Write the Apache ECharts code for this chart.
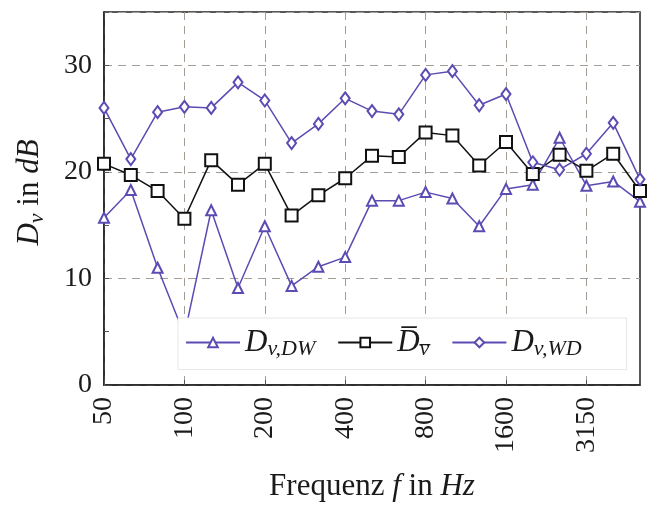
<!DOCTYPE html>
<html>
<head>
<meta charset="utf-8">
<script src="https://cdn.jsdelivr.net/npm/echarts@6/dist/echarts.min.js"></script>
<style>
  html, body { margin: 0; padding: 0; background: #fff; }
  #chart { width: 652px; height: 507px; }
</style>
</head>
<body>
<div id="chart"></div>
<script>
// Terzbänder
const freqs = ['50', '63', '80', '100', '125', '160', '200', '250', '315', '400', '500',
  '630', '800', '1000', '1250', '1600', '2000', '2500', '3150', '4000', '5000'];

const dvDW = [15.7, 18.3, 11.0, 4.7, 16.4, 9.1, 14.9, 9.3, 11.1, 12.0, 17.3,
  17.3, 18.1, 17.5, 14.9, 18.4, 18.8, 23.2, 18.7, 19.1, 17.2];
const dvMean = [20.75, 19.7, 18.2, 15.6, 21.1, 18.8, 20.75, 15.9, 17.8, 19.4, 21.5,
  21.4, 23.7, 23.4, 20.6, 22.8, 19.8, 21.6, 20.1, 21.7, 18.2];
const dvWD = [26.0, 21.2, 25.6, 26.1, 26.0, 28.4, 26.7, 22.7, 24.5, 26.9, 25.7,
  25.4, 29.1, 29.45, 26.25, 27.3, 20.9, 20.2, 21.7, 24.6, 19.3];

const yTicks = [0, 10, 20, 30];

const serif = 'Liberation Serif';
const purple = '#5a4cb2';
const ink = '#1a1a1a';

const rich = {
  it: { fontFamily: serif, fontStyle: 'italic', fontSize: 31, color: ink },
  rm: { fontFamily: serif, fontSize: 31, color: ink },
  sub: { fontFamily: serif, fontStyle: 'italic', fontSize: 22, color: ink, padding: [14, 0, 0, 0] }
};

const legendNames = {
  DW: '{it|D}{sub|v,DW}',
  mean: '{it|D\u0305}{sub|v\u0305}',
  WD: '{it|D}{sub|v,WD}'
};

const every3 = (i) => i % 3 === 0;

const chart = echarts.init(document.getElementById('chart'));

const option = {
  backgroundColor: '#fff',
  animation: false,
  grid: {
    left: 104, right: 12, top: 12, bottom: 121,
    show: true, borderColor: '#222', borderWidth: 1.5, backgroundColor: 'transparent'
  },
  legend: {
    left: 178, top: 318,
    backgroundColor: '#fff', borderColor: '#e6e6e6', borderWidth: 1,
    padding: [9, 45, 9, 7],
    itemWidth: 54, itemHeight: 12, itemGap: 22,
    data: ['DW', 'mean', 'WD'],
    formatter: (n) => legendNames[n],
    textStyle: { rich: rich, color: ink }
  },
  xAxis: {
    type: 'category',
    data: freqs,
    boundaryGap: false,
    name: '{rm|Frequenz }{it|f}{rm| in }{it|Hz}',
    nameLocation: 'middle',
    nameGap: 86,
    nameTextStyle: { rich: rich },
    axisLine: { lineStyle: { color: '#222', width: 1.5 } },
    axisTick: { inside: true, interval: (i) => every3(i), length: 5, lineStyle: { color: '#555' } },
    axisLabel: {
      interval: (i) => every3(i), rotate: 90, margin: 12,
      fontFamily: serif, fontSize: 28, color: ink
    },
    splitLine: {
      show: true, interval: (i) => every3(i),
      lineStyle: { type: [8, 6], color: '#a39c94', width: 1 }
    }
  },
  yAxis: {
    type: 'value',
    min: 0, max: 35, interval: 10,
    name: '{it|D}{sub|v}{rm| in }{it|dB}',
    nameLocation: 'middle',
    nameRotate: 90,
    nameGap: 56,
    nameTextStyle: { rich: rich, padding: [0, 0, 0, 12] },
    axisLine: { show: true, lineStyle: { color: '#222', width: 1.5 } },
    axisTick: { show: true, inside: true, length: 5, lineStyle: { color: '#555' } },
    minorTick: { show: true, splitNumber: 2, length: 5, lineStyle: { color: '#555' } },
    axisLabel: {
      margin: 12, fontFamily: serif, fontSize: 28, color: ink,
      formatter: (v) => (yTicks.indexOf(v) >= 0 ? String(v) : '')
    },
    splitLine: {
      show: true,
      lineStyle: { type: [8, 6], color: '#a39c94', width: 1 }
    }
  },
  series: [
    {
      name: 'DW', type: 'line', data: dvDW,
      symbol: 'emptyTriangle', symbolSize: 10,
      lineStyle: { color: purple, width: 1.5 },
      itemStyle: { color: purple, borderColor: purple, borderWidth: 1.2 }
    },
    {
      name: 'mean', type: 'line', data: dvMean,
      symbol: 'emptyRect', symbolSize: 12,
      lineStyle: { color: '#111', width: 1.5 },
      itemStyle: { color: '#111', borderColor: '#111', borderWidth: 1.5 }
    },
    {
      name: 'WD', type: 'line', data: dvWD,
      symbol: 'emptyDiamond', symbolSize: [9, 12],
      lineStyle: { color: purple, width: 1.5 },
      itemStyle: { color: purple, borderColor: purple, borderWidth: 1.2 }
    }
  ]
};

chart.setOption(option);
</script>
</body>
</html>
